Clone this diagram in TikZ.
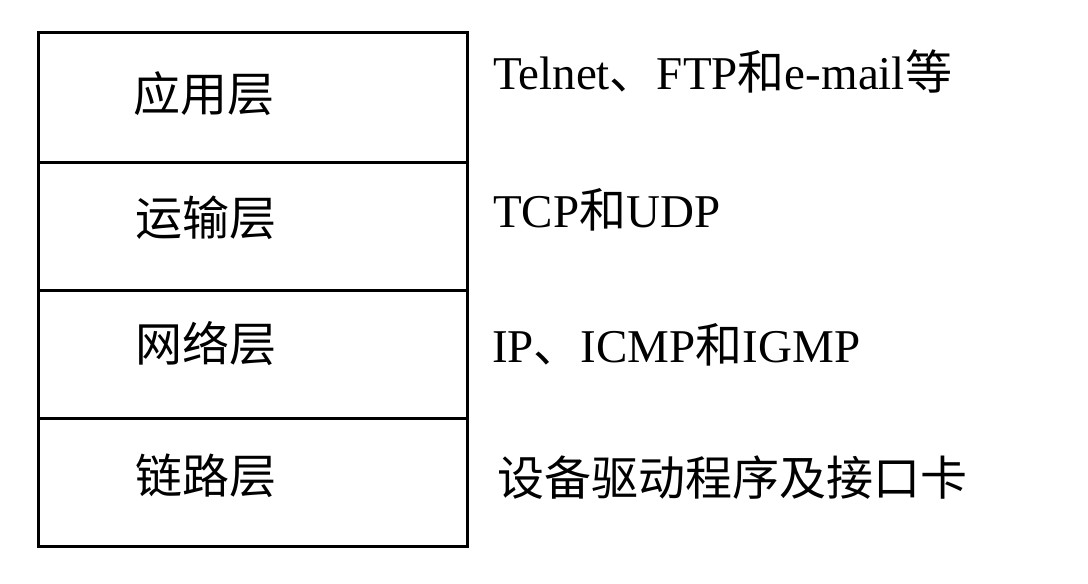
\documentclass[tikz,border=0pt]{standalone}
\usepackage{fontspec}
\setmainfont{Liberation Serif}
\newfontfamily\cjk{Noto Sans CJK SC}
\usepackage{tikz}

\begin{document}
\begin{tikzpicture}[x=1pt,y=-1pt]
            \tikzset{layer/.style={draw,line width=3pt,minimum width=429pt,inner sep=0pt},
                     layername/.style={inner sep=0pt,font=\fontsize{47}{56}\selectfont\cjk},
                     proto/.style={inner sep=0pt,font=\fontsize{47}{56}\selectfont}}
            \useasboundingbox (0,0) rectangle (1088,584);
            \node[layer,minimum height=130pt] (app) at (252.5,97) {};
            \node[layer,minimum height=128pt] (trans) at (252.5,226) {};
            \node[layer,minimum height=128pt] (net) at (252.5,354) {};
            \node[layer,minimum height=128pt] (link) at (252.5,482) {};
            \node[layername] (appname) at (204,94) {应用层};
            \node[layername] (transname) at (206,218) {运输层};
            \node[layername] (netname) at (206,344) {网络层};
            \node[layername] (linkname) at (206,476) {链路层};
            \node[proto,anchor=base west] (appproto) at (493,89) {Telnet{\cjk 、}FTP{\cjk 和}e-mail{\cjk 等}};
            \node[proto,anchor=base west] (transproto) at (493,227) {TCP{\cjk 和}UDP};
            \node[proto,anchor=base west] (netproto) at (492,362) {IP{\cjk 、}ICMP{\cjk 和}IGMP};
            \node[layername,anchor=west] (linkproto) at (497,478) {设备驱动程序及接口卡};
        \end{tikzpicture}
\end{document}
